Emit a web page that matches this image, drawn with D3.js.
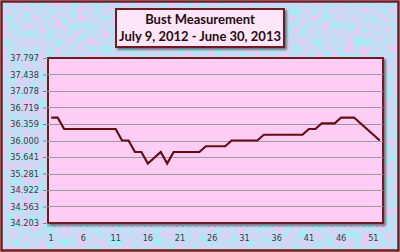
<!DOCTYPE html>
<html>
<head>
<meta charset="utf-8">
<script src="https://cdn.jsdelivr.net/npm/d3@7"></script>
<style>
  body { margin: 0; background: #fff; }
  svg { display: block; }
</style>
</head>
<body>
<script>
// weekly bust measurement (inches), weeks 1..52
var weeks = d3.range(1, 53);
var bust = [36.5, 36.5, 36.25, 36.25, 36.25, 36.25, 36.25, 36.25, 36.25, 36.25,
            36.25, 36.0, 36.0, 35.75, 35.75, 35.5, 35.625, 35.75, 35.5, 35.75,
            35.75, 35.75, 35.75, 35.75, 35.875, 35.875, 35.875, 35.875, 36.0, 36.0,
            36.0, 36.0, 36.0, 36.125, 36.125, 36.125, 36.125, 36.125, 36.125, 36.125,
            36.25, 36.25, 36.375, 36.375, 36.375, 36.5, 36.5, 36.5, 36.375, 36.25,
            36.125, 36.0];
var yTicks = [34.203, 34.563, 34.922, 35.281, 35.641, 36.000, 36.359, 36.719, 37.078, 37.438, 37.797];
var xLabels = [1, 6, 11, 16, 21, 26, 31, 36, 41, 46, 51];
var titleLines = ["Bust Measurement", "July 9, 2012 - June 30, 2013"];

var W = 400, H = 252;
var maroon = "#6e1c22";

var svg = d3.select("body").append("svg")
    .attr("width", W).attr("height", H);

var defs = svg.append("defs");

// paper texture for the chart background (light blue with pink blotches)
var tex = defs.append("filter").attr("id", "paper")
    .attr("color-interpolation-filters", "sRGB")
    .attr("x", 0).attr("y", 0).attr("width", "100%").attr("height", "100%");
tex.append("feTurbulence")
    .attr("type", "fractalNoise").attr("baseFrequency", 0.13)
    .attr("numOctaves", 3).attr("seed", 7).attr("result", "n");
tex.append("feColorMatrix").attr("in", "n").attr("type", "matrix")
    .attr("values", "0.6 0 0 0 0.48  -0.3 0 0 0 1.01  0 0 0 0 0.96  0 0 0 0 1");

var shadow = defs.append("filter").attr("id", "shadow")
    .attr("x", "-10%").attr("y", "-10%").attr("width", "130%").attr("height", "140%");
shadow.append("feDropShadow").attr("dx", 2).attr("dy", 2)
    .attr("stdDeviation", 1.2).attr("flood-color", "#000").attr("flood-opacity", 0.45);

// chart area
svg.append("rect").attr("x", 1.5).attr("y", 1.5).attr("width", W - 3).attr("height", H - 3)
    .attr("fill", "#c6dcf6").attr("filter", "url(#paper)");
svg.append("rect").attr("x", 1.5).attr("y", 1.5).attr("width", W - 3).attr("height", H - 3)
    .attr("fill", "none").attr("stroke", maroon).attr("stroke-width", 2.5);

var m = { left: 48, right: 383, top: 58, bottom: 223 };

var x = d3.scaleBand().domain(weeks).range([m.left, m.right]);
var y = d3.scaleLinear().domain([yTicks[0], yTicks[yTicks.length - 1]]).range([m.bottom, m.top]);

// plot area
svg.append("rect")
    .attr("x", m.left).attr("y", m.top)
    .attr("width", m.right - m.left).attr("height", m.bottom - m.top)
    .attr("fill", "#fdcdf6").attr("stroke", maroon).attr("stroke-width", 2)
    .attr("filter", "url(#shadow)");

// gridlines
svg.append("g").selectAll("line")
    .data(yTicks.slice(1, -1))
    .join("line")
    .attr("x1", m.left).attr("x2", m.right)
    .attr("y1", function (d) { return Math.round(y(d)) + 0.5; })
    .attr("y2", function (d) { return Math.round(y(d)) + 0.5; })
    .attr("stroke", "#a09aa0").attr("stroke-width", 1);

// y axis
var yAxis = svg.append("g")
    .attr("transform", "translate(" + m.left + ",0)")
    .call(d3.axisLeft(y).tickValues(yTicks).tickFormat(d3.format(".3f")).tickSize(5).tickPadding(4));
yAxis.select(".domain").remove();
yAxis.selectAll("line").attr("stroke", "#8a8a8a");
yAxis.selectAll("text")
    .attr("fill", "#3c3c3c")
    .style("font-family", "DejaVu Sans, sans-serif").style("font-size", "8.2px");

// x axis: ticks between categories, labels every 5 weeks
var bounds = weeks.map(function (w) { return x(w); }).concat([m.right]);
svg.append("g").selectAll("line")
    .data(bounds).join("line")
    .attr("x1", function (d) { return d; }).attr("x2", function (d) { return d; })
    .attr("y1", m.bottom + 1).attr("y2", m.bottom + 4)
    .attr("stroke", "#8a8a8a");
svg.append("g").selectAll("text")
    .data(xLabels).join("text")
    .attr("x", function (d) { return x(d) + x.bandwidth() / 2; })
    .attr("y", 241)
    .attr("text-anchor", "middle")
    .attr("fill", "#3c3c3c")
    .style("font-family", "DejaVu Sans, sans-serif").style("font-size", "8.2px")
    .text(function (d) { return d; });

// the line
var line = d3.line()
    .x(function (d, i) { return x(weeks[i]) + x.bandwidth() / 2; })
    .y(function (d) { return y(d); });
svg.append("path").datum(bust)
    .attr("d", line)
    .attr("fill", "none").attr("stroke", "#640c10").attr("stroke-width", 2.2)
    .attr("stroke-linejoin", "miter");

// title box
svg.append("rect")
    .attr("x", 116).attr("y", 9).attr("width", 168).attr("height", 38)
    .attr("fill", "#fde6f7").attr("stroke", maroon).attr("stroke-width", 2)
    .attr("filter", "url(#shadow)");
svg.append("g").selectAll("text")
    .data(titleLines).join("text")
    .attr("x", 200)
    .attr("y", function (d, i) { return 24 + i * 16.5; })
    .attr("text-anchor", "middle")
    .attr("fill", "#2a0c12")
    .style("font-family", "Lato, sans-serif").style("font-weight", "bold").style("font-size", "13px")
    .text(function (d) { return d; });
</script>
</body>
</html>
